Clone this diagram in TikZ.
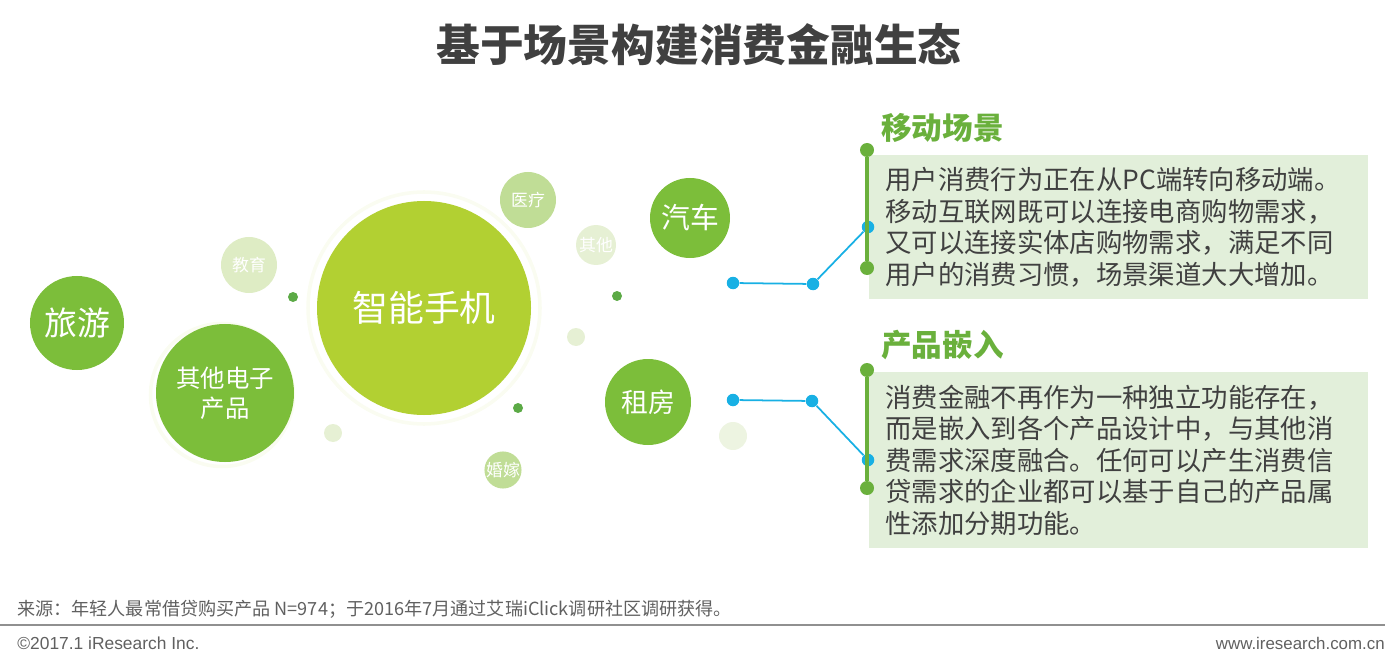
\documentclass[tikz,border=0pt]{standalone}
\usepackage{fontspec}
\setmainfont{Liberation Sans}
\newfontfamily\cjk{Noto Sans CJK SC}
\usepackage{xcolor}
\usetikzlibrary{positioning}

\definecolor{leaf}{RGB}{124,190,58}
\definecolor{lime}{RGB}{178,208,50}
\definecolor{sage}{RGB}{192,221,150}
\definecolor{mist}{RGB}{222,236,196}
\definecolor{pale}{RGB}{230,240,212}
\definecolor{moss}{RGB}{92,170,70}
\definecolor{head}{RGB}{106,176,60}
\definecolor{panelbg}{RGB}{226,239,218}
\definecolor{sky}{RGB}{24,176,228}
\definecolor{ink}{RGB}{64,64,64}
\definecolor{note}{RGB}{96,96,96}

\begin{document}
\begin{tikzpicture}[
      x=0.2mm, y=-0.2mm,
      bub/.style={circle, inner sep=0pt, text=white, align=center},
      spot/.style={circle, inner sep=0pt, minimum size=2mm, fill=moss},
      halo/.style={circle, inner sep=0pt, draw=lime!7, line width=2pt, fill=white},
      jdot/.style={circle, inner sep=0pt, minimum size=2.5mm, fill=sky},
      gdot/.style={circle, inner sep=0pt, minimum size=2.8mm, fill=head},
      link/.style={sky, line width=1pt},
      bar/.style={head, line width=2.5pt},
      panel/.style={fill=panelbg, anchor=north west, inner xsep=3.2mm, inner ysep=0pt,
                    minimum width=99.8mm, text width=93.4mm, align=left,
                    font=\cjk\fontsize{15}{17.9}\selectfont, text=ink},
      heading/.style={anchor=west, text=head, inner sep=0pt,
                      font=\cjk\bfseries\fontsize{17.4}{20}\selectfont},
      foot/.style={text=note, inner sep=0pt, font=\fontsize{9.9}{11}\selectfont},
    ]
    \useasboundingbox (0,0) rectangle (1396,665);

    \node[font=\cjk\bfseries\fontsize{24.9}{28}\selectfont, text=ink] (ttl) at (699,45)
      {基于场景构建消费金融生态};

    % scene bubbles
    \node[halo, minimum size=46.4mm] (phhalo) at (424,308) {};
    \node[halo, minimum size=28.6mm] (elhalo) at (222,395) {};
    \node[bub, fill=leaf, minimum size=18.8mm, font=\cjk\fontsize{18.7}{20}\selectfont] (trip) at (77,323) {旅游};
    \node[bub, fill=leaf, minimum size=27.6mm, font=\cjk\fontsize{13.9}{17}\selectfont] (elec) at (225,393) {其他电子\\产品};
    \node[bub, fill=lime, minimum size=42.8mm, font=\cjk\fontsize{20.4}{22}\selectfont] (phone) at (424,308) {智能手机};
    \node[bub, fill=mist, minimum size=11.2mm, font=\cjk\fontsize{9.6}{11}\selectfont] (edu) at (249,265) {教育};
    \node[bub, fill=sage, minimum size=11.2mm, font=\cjk\fontsize{9.6}{11}\selectfont] (med) at (528,200) {医疗};
    \node[bub, fill=pale, minimum size=8mm, font=\cjk\fontsize{9.6}{11}\selectfont] (misc) at (596,245) {其他};
    \node[bub, fill=sage, minimum size=6.8mm, font=\cjk\fontsize{9.6}{11}\selectfont] (wed) at (503,470) {婚嫁};
    \node[bub, fill=leaf, minimum size=16mm, font=\cjk\fontsize{16.4}{18}\selectfont] (car) at (690,218) {汽车};
    \node[bub, fill=leaf, minimum size=17.2mm, font=\cjk\fontsize{15.3}{17}\selectfont] (rent) at (648,402) {租房};

    \node[spot] (s1) at (293,297) {};
    \node[spot] (s2) at (617,296) {};
    \node[spot] (s3) at (518,408) {};
    \node[bub, fill=pale, minimum size=3.6mm] (p1) at (576,337) {};
    \node[bub, fill=pale, minimum size=3.6mm] (p2) at (333,433) {};
    \node[bub, fill=pale!70, minimum size=5.6mm] (p3) at (733,436) {};

    % text panels
    \node[panel, minimum height=28.8mm] (box1) at (869,155)
      {用户消费行为正在从PC端转向移动端。\\
       移动互联网既可以连接电商购物需求，\\
       又可以连接实体店购物需求，满足不同\\
       用户的消费习惯，场景渠道大大增加。};
    \node[panel, minimum height=35.2mm] (box2) at (869,372)
      {消费金融不再作为一种独立功能存在，\\
       而是嵌入到各个产品设计中，与其他消\\
       费需求深度融合。任何可以产生消费信\\
       贷需求的企业都可以基于自己的产品属\\
       性添加分期功能。};
    \node[heading] (h1) at (881,128) {移动场景};
    \node[heading] (h2) at (881,345) {产品嵌入};

    % blue leaders
    \node[jdot] (m1a) at (733,283) {};
    \node[jdot] (m1b) at (813,284) {};
    \node[jdot] (m1c) at (868,227) {};
    \draw[link] (m1a) -- (m1b) -- (m1c);
    \node[jdot] (m2a) at (733,400) {};
    \node[jdot] (m2b) at (812,401) {};
    \node[jdot] (m2c) at (868,460) {};
    \draw[link] (m2a) -- (m2b) -- (m2c);

    % green bars
    \node[gdot] (b1t) at (867,150) {};
    \node[gdot] (b1b) at (867,268) {};
    \draw[bar] (b1t) -- (b1b);
    \node[gdot] (b2t) at (867,370) {};
    \node[gdot] (b2b) at (867,488) {};
    \draw[bar] (b2t) -- (b2b);

    % footer
    \node[foot, anchor=west, font=\cjk\fontsize{10.3}{12}\selectfont] (src) at (17,609)
      {来源：年轻人最常借贷购买产品 N=974；于2016年7月通过艾瑞iClick调研社区调研获得。};
    \coordinate (rl) at (0,625);
    \coordinate (rr) at (1385,625);
    \draw[note!70, line width=0.8pt] (rl) -- (rr);
    \node[foot, anchor=west] (copy) at (17,643) {©2017.1 iResearch Inc.};
    \node[foot, anchor=east, font=\fontsize{9.6}{11}\selectfont] (url) at (1385,643) {www.iresearch.com.cn};
  \end{tikzpicture}
\end{document}
